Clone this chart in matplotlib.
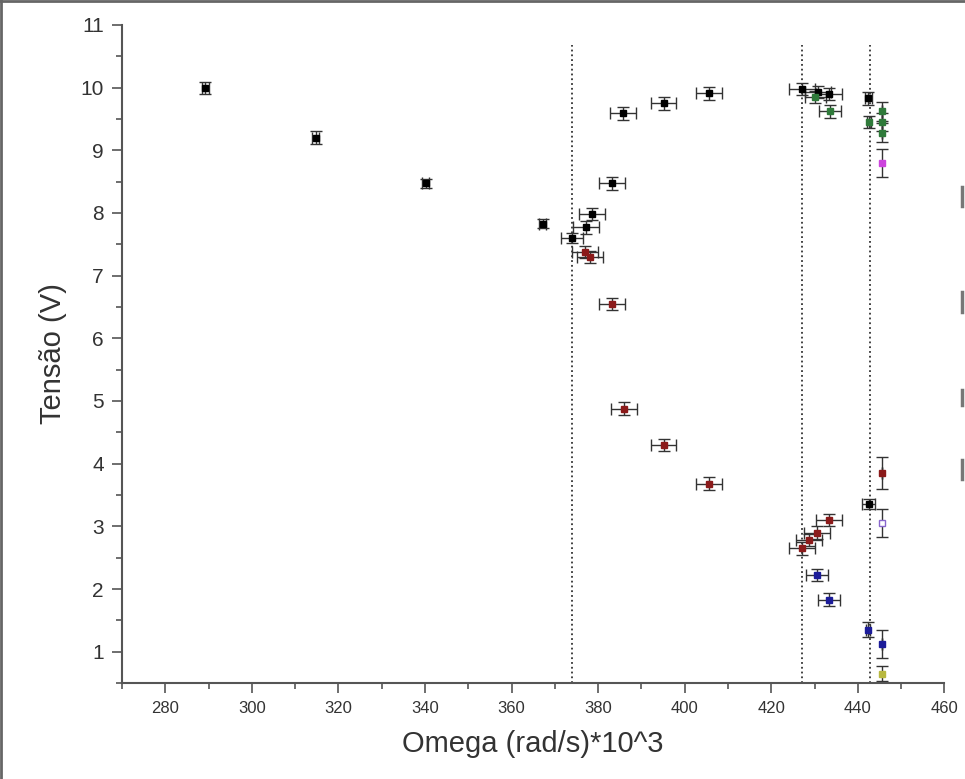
import matplotlib
matplotlib.use('Agg')
import matplotlib.pyplot as plt
from matplotlib.lines import Line2D

plt.rcParams['font.family'] = ['Liberation Sans', 'DejaVu Sans']

# ---- data ----
# black, first points (small error bars)
bk1_x = [289.2, 314.8, 340.2, 367.2]
bk1_y = [9.99, 9.20, 8.47, 7.83]
bk1_xe = [0.8, 0.8, 0.8, 0.8]
bk1_ye = [0.10, 0.10, 0.07, 0.07]

# black, rising branch
bk2_x = [373.9, 377.3, 378.5, 383.3, 385.7, 395.1, 405.5, 427.2, 430.7, 433.4, 442.4, 442.5]
bk2_y = [7.60, 7.77, 7.98, 8.47, 9.59, 9.75, 9.91, 9.98, 9.93, 9.90, 9.83, 3.35]
bk2_xe = [2.5, 3.0, 3.0, 3.0, 3.0, 3.0, 3.0, 3.0, 3.0, 3.0, 0.8, 1.5]
bk2_ye = [0.08, 0.1, 0.1, 0.1, 0.1, 0.1, 0.1, 0.1, 0.1, 0.1, 0.1, 0.08]

# dark red, falling branch
rd_x = [377.0, 378.2, 383.3, 385.9, 395.1, 405.5, 427.0, 428.6, 430.5, 433.4, 445.6]
rd_y = [7.38, 7.30, 6.55, 4.88, 4.30, 3.68, 2.65, 2.78, 2.90, 3.10, 3.85]
rd_xe = [3.0, 3.0, 3.0, 3.0, 3.0, 3.0, 3.0, 3.0, 3.0, 3.0, 0.0]
rd_ye = [0.1, 0.1, 0.1, 0.1, 0.1, 0.1, 0.1, 0.1, 0.1, 0.1, 0.25]

# blue
bl_x = [430.6, 433.4, 442.3, 445.6]
bl_y = [2.22, 1.83, 1.35, 1.12]
bl_xe = [2.5, 2.5, 0.5, 0.0]
bl_ye = [0.1, 0.1, 0.12, 0.22]

# green
gr_x = [430.2, 433.5, 442.5, 445.6, 445.6, 445.6]
gr_y = [9.85, 9.62, 9.45, 9.62, 9.45, 9.28]
gr_xe = [2.5, 2.5, 0.5, 0.0, 0.0, 0.0]
gr_ye = [0.1, 0.1, 0.1, 0.15, 0.15, 0.15]

# single points at the last omega
mg_x, mg_y, mg_ye = [445.6], [8.80], [0.22]
vi_x, vi_y, vi_ye = [445.6], [3.05], [0.22]
ye_x, ye_y, ye_ye = [445.6], [0.65], [0.12]

# vertical reference lines
vlines_x = [374.0, 427.0, 442.7]

###########################

fig = plt.figure(figsize=(9.65, 7.79), dpi=100)
ax = fig.add_axes([0.1264, 0.1232, 0.8523, 0.8448])

eb = dict(fmt='s', ms=4, capsize=4, elinewidth=1.0, capthick=1.0, ecolor='#333333')

ax.errorbar(bk1_x, bk1_y, xerr=bk1_xe, yerr=bk1_ye, color='k', **eb)
ax.errorbar(bk2_x, bk2_y, xerr=bk2_xe, yerr=bk2_ye, color='k', **eb)
ax.errorbar(rd_x, rd_y, xerr=rd_xe, yerr=rd_ye, color='#8b1a1a', **eb)
ax.errorbar(bl_x, bl_y, xerr=bl_xe, yerr=bl_ye, color='#1c1c99', **eb)
ax.errorbar(gr_x, gr_y, xerr=gr_xe, yerr=gr_ye, color='#2f7a3a', **eb)
ax.errorbar(mg_x, mg_y, yerr=mg_ye, color='#cc44dd', **eb)
ax.errorbar(vi_x, vi_y, yerr=vi_ye, color='#8866cc', mfc='white', **eb)
ax.errorbar(ye_x, ye_y, yerr=ye_ye, color='#b8b840', **eb)

for xv in vlines_x:
    ax.plot([xv, xv], [0.5, 10.68], ls=':', color='#333333', lw=1.3)

ax.set_xlim(270, 460)
ax.set_ylim(0.5, 11)
ax.set_xticks(range(280, 461, 20))
ax.set_xticks(range(270, 461, 10), minor=True)
ax.set_yticks(range(1, 12))
ax.set_yticks([v + 0.5 for v in range(0, 11)], minor=True)

for s in ['top', 'right']:
    ax.spines[s].set_visible(False)
for s in ['left', 'bottom']:
    ax.spines[s].set_color('#555555')
    ax.spines[s].set_linewidth(1.5)

ax.tick_params(axis='both', which='major', direction='out', length=7, width=1.2, color='#555555')
ax.tick_params(axis='both', which='minor', direction='out', length=4, width=1.2, color='#555555')
ax.tick_params(axis='x', labelsize=12, labelcolor='#333333', pad=6)
ax.tick_params(axis='y', labelsize=15, labelcolor='#333333', pad=6)

ax.set_xlabel('Omega (rad/s)*10^3', fontsize=21, color='#333333', labelpad=10)
ax.set_ylabel('Tensão (V)', fontsize=21, color='#333333', labelpad=10)

# what is left of a legend cut off at the right edge
for y0, y1 in [(0.735, 0.760), (0.600, 0.625), (0.480, 0.500), (0.385, 0.410)]:
    fig.add_artist(Line2D([0.997, 0.997], [y0, y1], color='#777777', lw=2.5,
                          transform=fig.transFigure))

# frame around the picture
fig.add_artist(Line2D([0.001, 0.001], [0, 1], color='#666666', lw=2, transform=fig.transFigure))
fig.add_artist(Line2D([0, 1], [0.999, 0.999], color='#666666', lw=2, transform=fig.transFigure))

fig.savefig('out.png', dpi=100)
